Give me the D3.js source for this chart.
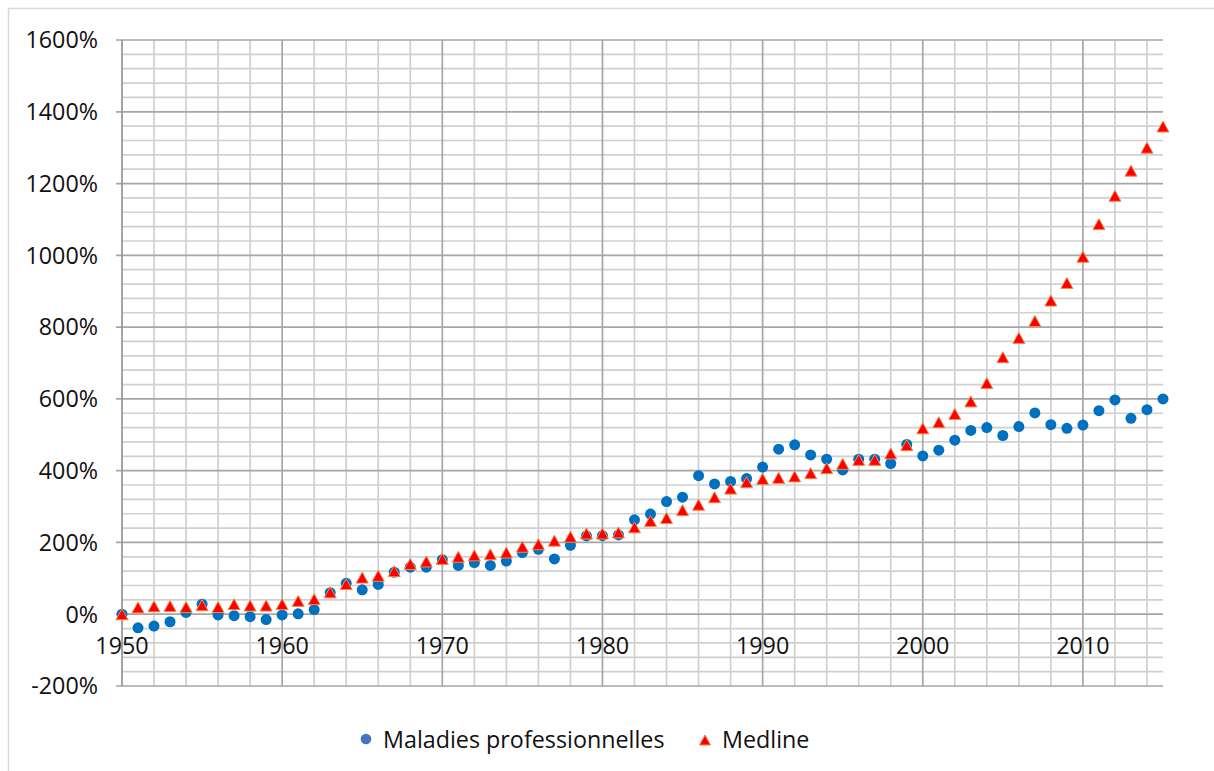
<!DOCTYPE html>
<html><head><meta charset="utf-8">
<script src="https://cdn.jsdelivr.net/npm/d3@7"></script>
<style>body{margin:0;background:#fff;} svg{display:block;}</style>
</head><body>
<svg id="c" width="1214" height="771"></svg>
<script>
const years = [1950,1951,1952,1953,1954,1955,1956,1957,1958,1959,1960,1961,1962,1963,1964,1965,1966,1967,1968,1969,1970,1971,1972,1973,1974,1975,1976,1977,1978,1979,1980,1981,1982,1983,1984,1985,1986,1987,1988,1989,1990,1991,1992,1993,1994,1995,1996,1997,1998,1999,2000,2001,2002,2003,2004,2005,2006,2007,2008,2009,2010,2011,2012,2013,2014,2015];
const maladies = [0,-38,-33,-21,5,28,-2,-4,-7,-15,-2,1,13,60,86,68,83,117,131,131,152,136,144,136,148,172,181,154,192,218,219,221,263,279,314,326,386,363,370,378,410,460,472,444,432,402,432,432,420,473,441,457,485,512,520,498,523,561,528,518,527,567,597,546,570,600];
const medline = [0,19,22,23,20,25,20,28,24,24,28,37,42,61,84,102,107,120,140,147,154,160,164,167,172,188,195,205,216,225,225,228,242,260,268,290,305,326,350,368,377,380,384,393,407,419,430,430,448,471,518,535,558,593,644,716,770,817,874,923,996,1087,1166,1236,1300,1359];
const yTicks = [-200,0,200,400,600,800,1000,1200,1400,1600];
const xTicks = [1950,1960,1970,1980,1990,2000,2010];
const seriesNames = ["Maladies professionnelles","Medline"];

const FONT = "'Open Sans', sans-serif";
const FS = 23.3;
const svg = d3.select("#c");
const x = d3.scaleLinear().domain([1950,2015]).range([122,1163]);
const y = d3.scaleLinear().domain([-200,1600]).range([686,40]);

// outer border
svg.append("rect").attr("x",8.5).attr("y",8.5).attr("width",1230).attr("height",790)
  .attr("fill","#fff").attr("stroke","#d9d9d9").attr("stroke-width",1.5);

// minor grid
const g = svg.append("g");
const minorY = d3.range(-200,1601,40).filter(v=>v%200!==0);
const minorX = d3.range(1952,2016,2).filter(v=>v%10!==0);
g.selectAll(".mh").data(minorY).join("line")
  .attr("x1",x(1950)).attr("x2",x(2015)).attr("y1",d=>y(d)).attr("y2",d=>y(d))
  .attr("stroke","#d0d0d0").attr("stroke-width",1.7);
g.selectAll(".mv").data(minorX).join("line")
  .attr("x1",d=>x(d)).attr("x2",d=>x(d)).attr("y1",y(-200)).attr("y2",y(1600))
  .attr("stroke","#d0d0d0").attr("stroke-width",1.7);
// major grid
g.selectAll(".Mh").data(yTicks).join("line")
  .attr("x1",x(1950)-6).attr("x2",x(2015)).attr("y1",d=>y(d)).attr("y2",d=>y(d))
  .attr("stroke","#a6a6a6").attr("stroke-width",1.7);
g.selectAll(".Mv").data(xTicks.filter(v=>v>1950)).join("line")
  .attr("x1",d=>x(d)).attr("x2",d=>x(d)).attr("y1",y(-200)).attr("y2",y(1600))
  .attr("stroke","#a6a6a6").attr("stroke-width",1.7);
g.append("line").attr("x1",x(1950)).attr("x2",x(1950)).attr("y1",y(-200)).attr("y2",y(1600))
  .attr("stroke","#999").attr("stroke-width",1.8);

// y labels
svg.selectAll(".yl").data(yTicks).join("text")
  .attr("x",98).attr("y",d=>y(d)).attr("dy","0.36em").attr("text-anchor","end")
  .attr("font-family",FONT).attr("font-size",FS).attr("fill","#111")
  .text(d=>d+"%");
// x labels
svg.selectAll(".xl").data(xTicks).join("text")
  .attr("x",d=>x(d)).attr("y",654).attr("text-anchor","middle")
  .attr("font-family",FONT).attr("font-size",FS).attr("fill","#111")
  .text(d=>d);

// series
const tri = (w,h)=>`M0,${-h/2}L${w/2},${h/2}L${-w/2},${h/2}Z`;
svg.append("g").selectAll("circle").data(years.map((yr,i)=>[yr,maladies[i]])).join("circle")
  .attr("cx",d=>x(d[0])).attr("cy",d=>y(d[1])).attr("r",5.5).attr("fill","#0070c0");
svg.append("g").selectAll("path").data(years.map((yr,i)=>[yr,medline[i]])).join("path")
  .attr("transform",d=>`translate(${x(d[0])},${y(d[1])})`)
  .attr("d",tri(12,11)).attr("fill","#ff0000").attr("stroke","#f28a48").attr("stroke-width",1);

// legend
const lg = svg.append("g");
lg.append("circle").attr("cx",366).attr("cy",739).attr("r",5.3).attr("fill","#4472c4");
lg.append("text").attr("x",383).attr("y",748).attr("font-family",FONT).attr("font-size",FS).attr("fill","#111").text(seriesNames[0]);
lg.append("path").attr("transform","translate(705,740)").attr("d",tri(11,10)).attr("fill","#ff0000").attr("stroke","#f28a48").attr("stroke-width",1);
lg.append("text").attr("x",722).attr("y",748).attr("font-family",FONT).attr("font-size",FS).attr("fill","#111").text(seriesNames[1]);
</script>
</body></html>
